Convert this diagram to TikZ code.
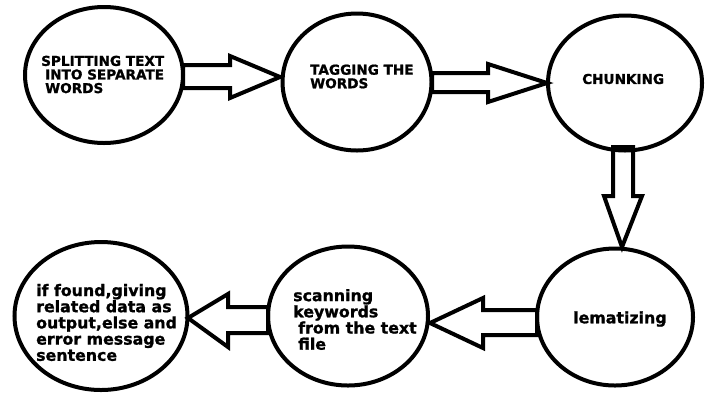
\documentclass[tikz,border=0pt]{standalone}
\usepackage{fontspec}
\setmainfont[BoldFeatures={FakeBold=1.2}]{DejaVu Sans}
\usetikzlibrary{shapes.geometric}
\begin{document}
\begin{tikzpicture}[x=1pt,y=-1pt,
  stage/.style={draw=black,line width=4pt,ellipse,inner sep=0pt},
  upper/.style={anchor=west,inner sep=0pt,align=left,font=\bfseries\fontsize{13.6}{13.6}\selectfont},
  lower/.style={anchor=west,inner sep=0pt,align=left,font=\bfseries\fontsize{15.8}{16.2}\selectfont},
  blockarrow/.style={draw=black,fill=white,line width=4pt,line join=miter}]
\useasboundingbox (0,0) rectangle (708,392);
% arrows (drawn first, circles on top)
\draw[blockarrow] (183,65) -- (230,65) -- (230,56) -- (280,77) -- (230,98) -- (230,88) -- (183,88) -- cycle;
\draw[blockarrow] (432,73) -- (488,73) -- (488,64) -- (547,83) -- (488,102) -- (488,92) -- (432,92) -- cycle;
\draw[blockarrow] (613,147) -- (613,196) -- (604,196) -- (622,247) -- (642,196) -- (633,196) -- (633,147) -- cycle;
\draw[blockarrow] (537,310) -- (483,310) -- (483,298) -- (430,323) -- (483,348) -- (483,335) -- (537,335) -- cycle;
\draw[blockarrow] (268,307) -- (228,307) -- (228,294) -- (188,318) -- (228,347) -- (228,333) -- (268,333) -- cycle;
% circles
\node[stage,minimum width=158pt,minimum height=136pt] (c1) at (104,75) {};
\node[stage,minimum width=149pt,minimum height=137pt] (c2) at (357,82) {};
\node[stage,minimum width=154pt,minimum height=135pt] (c3) at (625,83) {};
\node[stage,minimum width=156pt,minimum height=137pt] (c4) at (615,317) {};
\node[stage,minimum width=160pt,minimum height=139pt] (c5) at (348,316) {};
\node[stage,minimum width=173pt,minimum height=148pt] (c6) at (101,316) {};
% labels
\node[upper] (t1) at (41,74.5) {SPLITTING TEXT\\\hspace{4pt}INTO SEPARATE\\\hspace{4pt}WORDS};
\node[upper] (t2) at (310,76.5) {TAGGING THE\\WORDS};
\node[upper] (t3) at (582,79) {CHUNKING};
\node[lower] (t4) at (573,319) {lematizing};
\node[lower] (t5) at (293,319.5) {scanning\\keywords\\\hspace{5pt}from the text\\\hspace{5pt}file};
\node[lower] (t6) at (36,322.5) {if found,giving\\related data as\\output,else and\\error message\\sentence};
\end{tikzpicture}
\end{document}
